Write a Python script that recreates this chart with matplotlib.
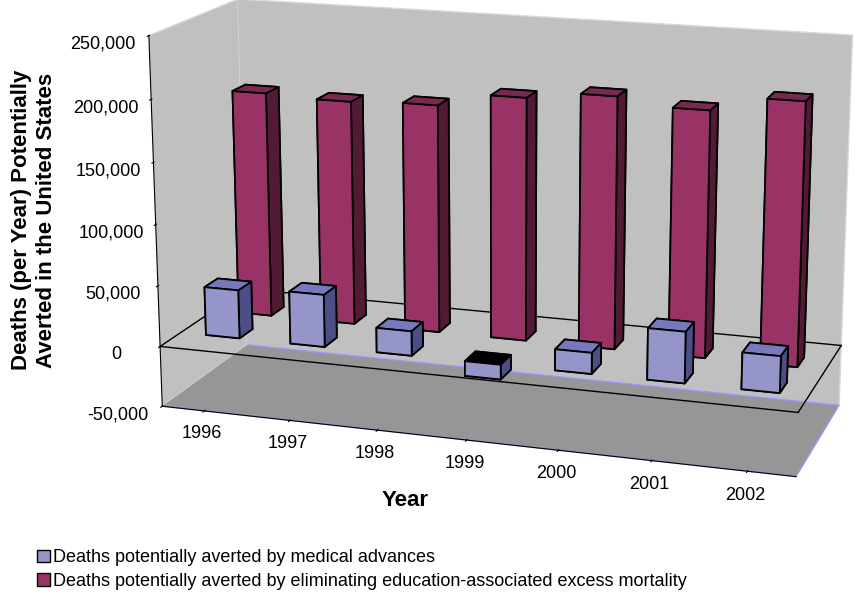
import numpy as np
import matplotlib.pyplot as plt
from matplotlib.patches import Patch
from matplotlib.ticker import FuncFormatter

plt.rcParams['font.family'] = ['Liberation Sans', 'DejaVu Sans']

# data
years = ['1996', '1997', '1998', '1999', '2000', '2001', '2002']
medical = [40000, 43000, 20000, -12000, 17000, 41000, 29000]
education = [187000, 185000, 187000, 198000, 204000, 198000, 210000]
series_names = ['Deaths potentially averted by medical advances',
                'Deaths potentially averted by eliminating education-associated excess mortality']

# face colours: bottom, top, front, back, left, right
blue_faces = ['black', '#7878BC', '#9595C9', '#9595C9', '#9595C9', '#4E4E86']
red_faces = ['black', '#7A2952', '#993366', '#993366', '#993366', '#521A35']

fig = plt.figure(figsize=(8.55, 5.92), dpi=100)
ax = fig.add_axes([145 / 855, 125 / 592, 699 / 855, 473 / 592], projection='3d')
ax.set_proj_type('persp', focal_length=1.0)
ax.view_init(elev=15, azim=-72)

n = len(years)
xpos = np.arange(n) + 0.3
bw = 0.4
# two rows in depth: front row = medical, back row = education
xs = np.concatenate([xpos, xpos])
ys = np.concatenate([np.full(n, 1.5), np.full(n, 4.0)])
zs = np.zeros(2 * n)
dz = np.concatenate([medical, education])
face_cols = blue_faces * n + red_faces * n
bars = ax.bar3d(xs, ys, zs, bw, 1.0, dz, color=face_cols, shade=False,
                edgecolor='black', linewidth=1.3)
bars.set_clip_on(False)

ax.set_xlim(0, n)
ax.set_ylim(0, 6.5)
ax.set_zlim(-50000, 250000)
ax.set_box_aspect((1, 0.33, 0.585), zoom=1.62)

# zero level outline
for xx, yy in [([0, n], [0, 0]), ([0, 0], [0, 6.5]), ([0, n], [6.5, 6.5]), ([n, n], [0, 6.5])]:
    ln, = ax.plot(xx, yy, [0, 0], color='black', lw=1)
    ln.set_clip_on(False)

ax.grid(False)
ax.xaxis.set_pane_color('#C0C0C0')
ax.yaxis.set_pane_color('#C0C0C0')
ax.zaxis.set_pane_color('#969696')
ax.xaxis.pane.set_edgecolor('#D8D8D8')
ax.yaxis.pane.set_edgecolor('#D8D8D8')
ax.zaxis.pane.set_edgecolor('#9999FF')
ax.xaxis.line.set_color('black')
ax.zaxis.line.set_color('black')
ax.yaxis.line.set_color((0, 0, 0, 0))
ax.zaxis.set_ticks_position('lower')

ax.set_xticks(np.arange(n) + 0.5)
ax.set_xticklabels(years)
ax.set_yticks([])
ax.set_zticks(np.arange(-50000, 250001, 50000))
ax.zaxis.set_major_formatter(FuncFormatter(lambda v, p: f'{int(v):,}'))
ax.tick_params(axis='x', labelsize=13, pad=-2)
ax.tick_params(axis='z', labelsize=13)

fig.text(34 / 855, 1 - 220 / 592, 'Deaths (per Year) Potentially\nAverted in the United States',
         rotation=90, ha='center', va='center', fontsize=16, fontweight='bold')
fig.text(405 / 855, 1 - 500 / 592, 'Year', ha='center', va='center',
         fontsize=16, fontweight='bold')

handles = [Patch(facecolor='#9595C9', edgecolor='black'),
           Patch(facecolor='#993366', edgecolor='black')]
fig.legend(handles, series_names, loc='upper left', bbox_to_anchor=(30 / 855, 1 - 542 / 592),
           frameon=False, fontsize=13, handlelength=0.7, handleheight=0.7,
           handletextpad=0.2, labelspacing=0.35, borderaxespad=0)

fig.savefig('out.png', dpi=100)
